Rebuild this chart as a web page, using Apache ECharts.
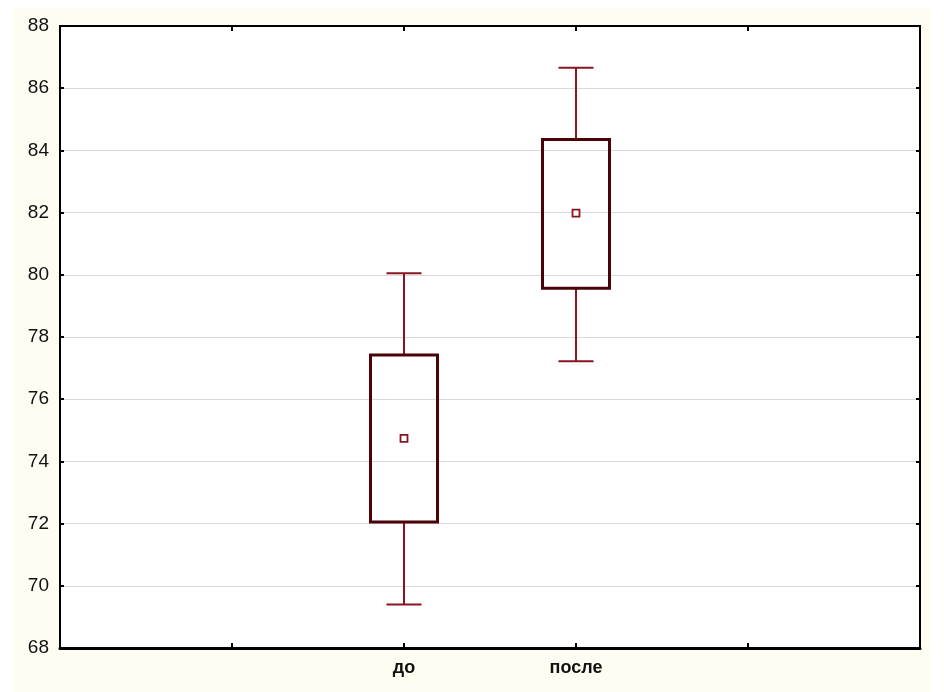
<!DOCTYPE html>
<html>
<head>
<meta charset="utf-8">
<script src="https://cdn.jsdelivr.net/npm/echarts@6/dist/echarts.min.js"></script>
<style>
html,body{margin:0;padding:0;background:#fff;}
#bg{position:absolute;left:14px;top:8px;width:916px;height:684px;background:#fffcf2;}
#chart{position:absolute;left:0;top:0;width:944px;height:692px;}
</style>
</head>
<body>
<div id="bg"></div>
<div id="chart"></div>
<script>
// Category slots (blank slots are axis padding positions)
const categories = ['', '', 'до', 'после', '', ''];
const groups = ['до', 'после'];
// Box statistics
const whiskerLow  = [69.4, 77.22];
const boxLow      = [72.05, 79.57];
const meanValues  = [74.74, 81.98];
const boxHigh     = [77.42, 84.35];
const whiskerHigh = [80.05, 86.66];
const yTicks = [68, 70, 72, 74, 76, 78, 80, 82, 84, 86, 88];

const seriesData = groups.map((g, i) => [categories.indexOf(g), whiskerLow[i], boxLow[i], meanValues[i], boxHigh[i], whiskerHigh[i]]);

const chart = echarts.init(document.getElementById('chart'), null, {renderer: 'canvas'});
const font = '"Liberation Sans", Arial, sans-serif';

function renderItem(params, api) {
  const x = api.value(0);
  const pWL = api.coord([x, api.value(1)]);
  const pBL = api.coord([x, api.value(2)]);
  const pM  = api.coord([x, api.value(3)]);
  const pBH = api.coord([x, api.value(4)]);
  const pWH = api.coord([x, api.value(5)]);
  const cx = pM[0];
  const boxW = 67, capW = 35, ms = 7;
  const wStyle = {stroke: '#8a1522', lineWidth: 2};
  return {
    type: 'group',
    children: [
      {type: 'line', shape: {x1: cx, y1: pWH[1], x2: cx, y2: pBH[1]}, style: wStyle},
      {type: 'line', shape: {x1: cx, y1: pBL[1], x2: cx, y2: pWL[1]}, style: wStyle},
      {type: 'line', shape: {x1: cx - capW/2, y1: pWH[1], x2: cx + capW/2, y2: pWH[1]}, style: wStyle},
      {type: 'line', shape: {x1: cx - capW/2, y1: pWL[1], x2: cx + capW/2, y2: pWL[1]}, style: wStyle},
      {type: 'rect', shape: {x: cx - boxW/2, y: pBH[1], width: boxW, height: pBL[1] - pBH[1]},
        style: {fill: 'rgba(255,255,255,0)', stroke: '#4a0309', lineWidth: 3}},
      {type: 'rect', shape: {x: cx - ms/2, y: pM[1] - ms/2, width: ms, height: ms},
        style: {fill: '#fff', stroke: '#8a1522', lineWidth: 1.8}}
    ]
  };
}

const option = {
  animation: false,
  backgroundColor: 'transparent',
  grid: {left: 60, right: 24, top: 26, bottom: 44, show: true, backgroundColor: '#fff',
         borderColor: '#000', borderWidth: 2, containLabel: false},
  xAxis: [{
    type: 'category', data: categories, boundaryGap: false, position: 'bottom',
    axisLine: {show: true, lineStyle: {color: '#000', width: 3}},
    axisTick: {show: true, inside: true, length: 5, lineStyle: {color: '#000', width: 2}},
    axisLabel: {color: '#111', fontFamily: font, fontSize: 18, fontWeight: 'bold', margin: 11, interval: 0},
    splitLine: {show: false}
  }, {
    type: 'category', data: categories, boundaryGap: false, position: 'top',
    axisLine: {show: true, lineStyle: {color: '#000', width: 2}},
    axisTick: {show: true, inside: true, length: 5, lineStyle: {color: '#000', width: 2}},
    axisLabel: {show: false}, splitLine: {show: false}
  }],
  yAxis: [{
    type: 'value', min: 68, max: 88, interval: 2, position: 'left',
    axisLine: {show: true, lineStyle: {color: '#000', width: 2}},
    axisTick: {show: true, inside: true, length: 4, lineStyle: {color: '#000', width: 2}},
    axisLabel: {color: '#111', fontFamily: font, fontSize: 19, margin: 11, verticalAlign: 'middle',
      lineHeight: 19, padding: [0, 0, 3, 0],
      formatter: v => yTicks.includes(v) ? String(v) : ''},
    splitLine: {show: true, lineStyle: {color: '#d9d9d9', width: 1}}
  }, {
    type: 'value', min: 68, max: 88, interval: 2, position: 'right',
    axisLine: {show: true, lineStyle: {color: '#000', width: 2}},
    axisTick: {show: true, inside: true, length: 4, lineStyle: {color: '#000', width: 2}},
    axisLabel: {show: false}, splitLine: {show: false}
  }],
  series: [{
    type: 'custom', xAxisIndex: 0, yAxisIndex: 0,
    renderItem: renderItem,
    encode: {x: 0, y: [1, 2, 3, 4, 5]},
    data: seriesData,
    clip: false
  }]
};
chart.setOption(option);
</script>
</body>
</html>
